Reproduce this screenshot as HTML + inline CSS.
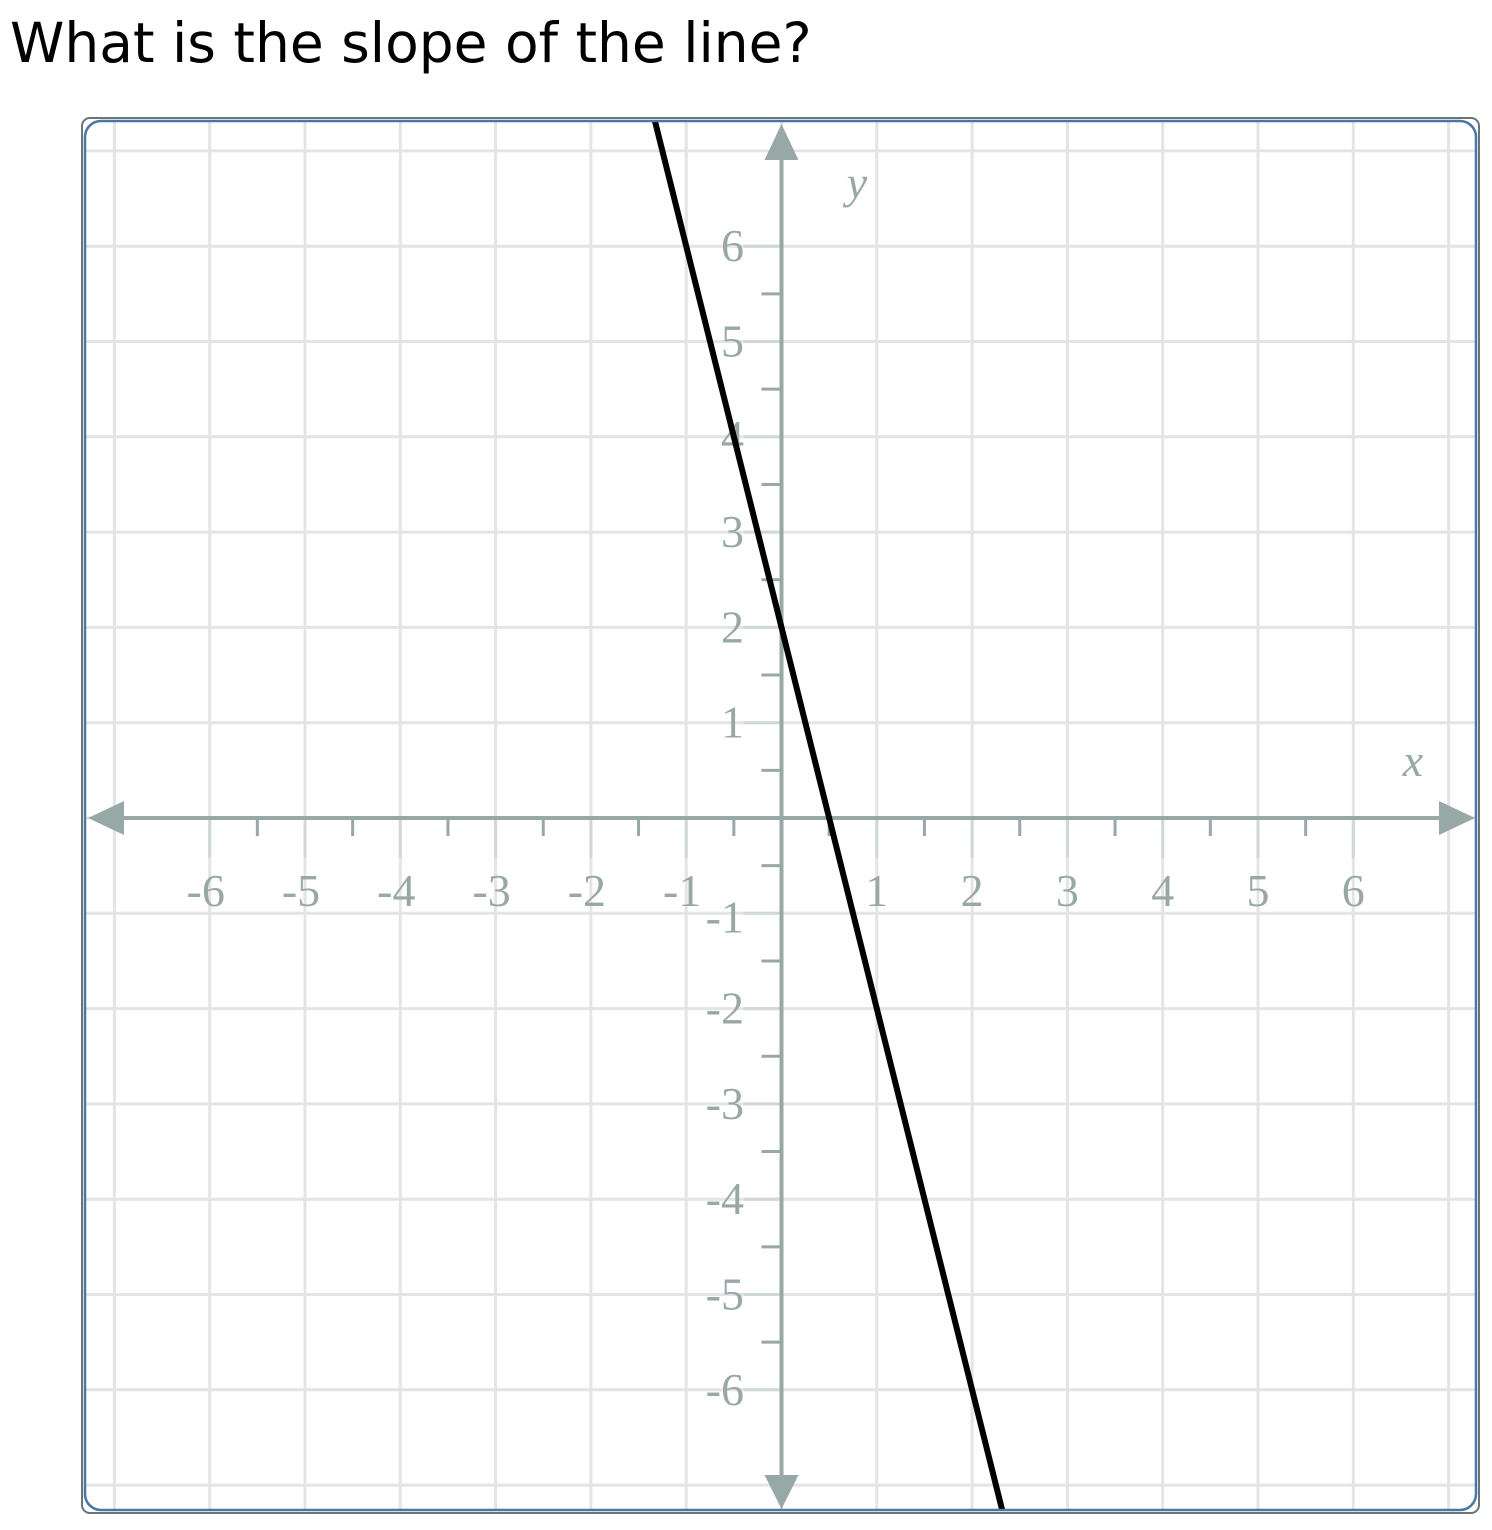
<!DOCTYPE html>
<html><head><meta charset="utf-8"><style>
html,body{margin:0;padding:0;background:#fff;width:1492px;height:1530px;overflow:hidden;position:relative}
#q{position:absolute;left:10px;top:13px;font-family:"DejaVu Sans","Liberation Sans",sans-serif;font-size:55px;color:#000;margin:0;font-weight:normal;line-height:1.1;white-space:nowrap}
svg{position:absolute;left:0;top:0;display:block}
</style></head><body>
<h1 id="q">What is the slope of the line?</h1>
<svg id="chart" width="1492" height="1530"></svg>
<script>
const xTicks=[-6,-5,-4,-3,-2,-1,1,2,3,4,5,6];
const yTicks=[6,5,4,3,2,1,-1,-2,-3,-4,-5,-6];
const lineSlope=[-4];
const lineIntercept=[2];
const NS="http://www.w3.org/2000/svg";
const svg=document.getElementById('chart');
const ox=781.5, oy=818, u=95.3;
const X=v=>ox+v*u, Y=v=>oy-v*u;
const L=82,R=1479,T=118,B=1513;
function el(t,a,p){const e=document.createElementNS(NS,t);for(const k in a)e.setAttribute(k,a[k]);(p||svg).appendChild(e);return e;}
const clip=el('clipPath',{id:'c'});el('rect',{x:L+3,y:T+3,width:R-L-6,height:B-T-6,rx:16},clip);
const g=el('g',{'clip-path':'url(#c)'});
for(let i=-7;i<=7;i++){
 const gv=el('line',{x1:X(i),x2:X(i),y1:T,y2:B,stroke:'#e4e4e4','stroke-width':3},g);
 
 const gh=el('line',{y1:Y(i),y2:Y(i),x1:L,x2:R,stroke:'#e4e4e4','stroke-width':3},g);
 
}
const ac='#98a8a6';
xTicks.forEach(v=>{el('line',{x1:X(v),x2:X(v),y1:oy,y2:oy+40,stroke:'#d0d8d7','stroke-width':3},g);});
yTicks.forEach(v=>{el('line',{y1:Y(v),y2:Y(v),x1:ox-38,x2:ox,stroke:'#d0d8d7','stroke-width':3},g);});
for(let i=-5.5;i<=5.5;i+=1){
 el('line',{x1:X(i),x2:X(i),y1:oy,y2:oy+18,stroke:ac,'stroke-width':3},g);
 el('line',{y1:Y(i),y2:Y(i),x1:ox-20,x2:ox,stroke:ac,'stroke-width':3},g);
}
const xa=el('line',{x1:118,x2:1445,y1:oy,y2:oy,stroke:ac,'stroke-width':4},g);

const ya=el('line',{x1:ox,x2:ox,y1:155,y2:1480,stroke:ac,'stroke-width':4},g);

el('polygon',{points:`88,${oy} 124,${oy-17} 124,${oy+17}`,fill:ac},g);
el('polygon',{points:`1475,${oy} 1439,${oy-17} 1439,${oy+17}`,fill:ac},g);
el('polygon',{points:`${ox},124 ${ox-17},160 ${ox+17},160`,fill:ac},g);
el('polygon',{points:`${ox},1509 ${ox-17},1475 ${ox+17},1475`,fill:ac},g);
const tf='font-family:"Liberation Serif",serif;font-size:46px;fill:#98a8a6';
xTicks.forEach(v=>{const t=el('text',{x:X(v)+(v<0?-4:0),y:906,'text-anchor':'middle',style:tf},g);t.textContent=v<0?'-'+(-v):String(v);
 });
yTicks.forEach(v=>{const t=el('text',{x:744,y:Y(v)+15+(v===-1?4:0),'text-anchor':'end',style:tf},g);t.textContent=v<0?'-'+(-v):String(v);
 });
const xl=el('text',{x:1413,y:776,'text-anchor':'middle',style:tf+';font-style:italic'},g);xl.textContent='x';

const yl=el('text',{x:857,y:198,'text-anchor':'middle',style:tf+';font-style:italic'},g);yl.textContent='y';

const m=lineSlope[0],b=lineIntercept[0];
const ln=el('line',{x1:X(-8),y1:Y(m*-8+b),x2:X(8),y2:Y(m*8+b),stroke:'#000','stroke-width':6},g);

el('rect',{x:L+3,y:T+3,width:R-L-6,height:B-T-6,rx:16,fill:'none',stroke:'#4a76a8','stroke-width':2.5});
const fr=el('rect',{x:L,y:T,width:R-L,height:B-T,rx:8,fill:'none',stroke:'#6b7576','stroke-width':2});

</script>
</body></html>
